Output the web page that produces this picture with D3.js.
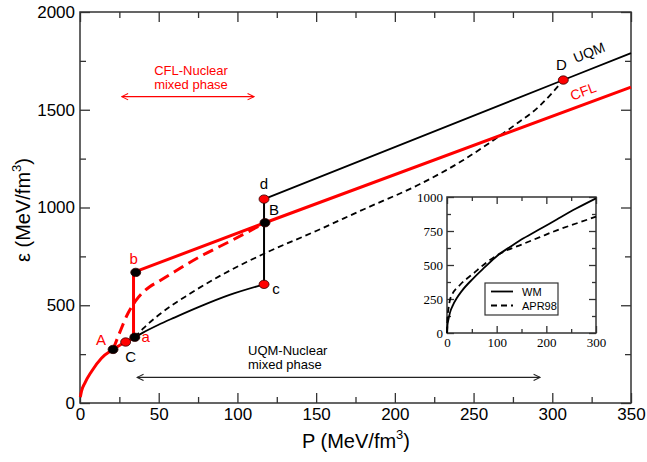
<!DOCTYPE html>
<html>
<head>
<meta charset="utf-8">
<script src="https://cdn.jsdelivr.net/npm/d3@7"></script>
<style>
  body { margin: 0; background: #fff; }
  svg { font-family: "Liberation Sans", Arial, Helvetica, sans-serif; }
</style>
</head>
<body>
<div id="chart"></div>
<script>
// ---- data (P in MeV/fm^3, eps in MeV/fm^3) ----
const cflLow = [[0.2,30],[1,62],[3,101],[7.2,160],[13.6,229],[21,274],[29,312],[34,334]];
const cflHigh = [[34,334],[34,668],[117.5,922],[350,1616]];
const cflMixed = [[21,274],[25,356],[30.5,459],[35.8,527],[44.3,595],[49.6,620],[76,748],[97,834],[117.5,922]];
const uqmLow = [[34.8,336],[40,360],[49.6,399],[60,437],[76,493],[95,553],[116.9,607]];
const uqmJump = [[116.9,607],[116.9,1043]];
const uqmHigh = [[116.9,1043],[307,1652],[350,1790]];
const uqmMixed = [[34.8,336],[40,380],[50,450],[70,560],[90,655],[117.5,766],[150,880],[180,990],[216,1120],[243,1240],[260,1330],[275,1415],[292,1520],[307,1652]];

const marks = [
  {name:"A", p:21, e:274, fill:"black", lab:"A", lc:"red", dx:-12, dy:-4},
  {name:"C", p:29, e:312, fill:"red", lab:"C", lc:"black", dx:5, dy:20},
  {name:"a", p:34.8, e:336, fill:"black", lab:"a", lc:"red", dx:11, dy:5},
  {name:"b", p:35.4, e:668, fill:"black", lab:"b", lc:"red", dx:-2, dy:-8},
  {name:"B", p:117.5, e:922, fill:"black", lab:"B", lc:"black", dx:9, dy:-8},
  {name:"c", p:116.9, e:607, fill:"red", lab:"c", lc:"black", dx:12, dy:10},
  {name:"d", p:116.9, e:1043, fill:"red", lab:"d", lc:"black", dx:0, dy:-10},
  {name:"D", p:307, e:1652, fill:"red", lab:"D", lc:"black", dx:-2, dy:-10}
];

// inset: WM vs APR98 nuclear EOS
const wm = [[0,0],[1,60],[3,100],[6,150],[12,205],[19.5,255],[30,310],[53,402],[75,480],[103,574],[130,640],[154,696],[190,770],[221,835],[260,915],[300,990]];
const apr98 = [[0,0],[1,110],[3,180],[6,243],[10,280],[26,353],[53,437],[80,520],[110,590],[150,650],[187,705],[221,755],[260,805],[300,855]];

const xMajor = [0,50,100,150,200,250,300,350];
const xMinor = [25,75,125,175,225,275,325];
const yMajor = [0,500,1000,1500,2000];
const yMinor = [250,750,1250,1750];
const ixMajor = [0,100,200,300];
const ixMinor = [50,150,250];
const iyMajor = [0,250,500,750,1000];
const iyMinor = [125,375,625,875];

const W = 647, H = 462;
const svg = d3.select("#chart").append("svg").attr("width", W).attr("height", H);

const x = d3.scaleLinear().domain([0,350]).range([80,631]);
const y = d3.scaleLinear().domain([0,2000]).range([403,12]);

const defs = svg.append("defs");
function arrowMarker(id, color) {
  defs.append("marker").attr("id", id)
    .attr("viewBox", "0 0 10 10").attr("refX", 9).attr("refY", 5)
    .attr("markerWidth", 8).attr("markerHeight", 8).attr("orient", "auto-start-reverse")
    .attr("markerUnits", "userSpaceOnUse")
    .append("path").attr("d", "M1,1 L9,5 L1,9").attr("fill", "none")
    .attr("stroke", color).attr("stroke-width", 1.3);
}
arrowMarker("arR", "red");
arrowMarker("arK", "#222");

// axes with inward ticks
function drawAxes(g, xs, ys, xMaj, xMin, yMaj, yMin, big, small, fmtX, fmtY) {
  const x0 = xs.range()[0], x1 = xs.range()[1], y0 = ys.range()[0], y1 = ys.range()[1];
  g.append("g").attr("transform", `translate(0,${y0})`)
    .call(d3.axisBottom(xs).tickValues(xMaj).tickSize(-big).tickPadding(5).tickFormat(fmtX));
  g.append("g").attr("transform", `translate(0,${y0})`)
    .call(d3.axisBottom(xs).tickValues(xMin).tickSize(-small).tickFormat(""));
  g.append("g").attr("transform", `translate(0,${y1})`)
    .call(d3.axisTop(xs).tickValues(xMaj).tickSize(-big).tickFormat(""));
  g.append("g").attr("transform", `translate(0,${y1})`)
    .call(d3.axisTop(xs).tickValues(xMin).tickSize(-small).tickFormat(""));
  g.append("g").attr("transform", `translate(${x0},0)`)
    .call(d3.axisLeft(ys).tickValues(yMaj).tickSize(-big).tickPadding(5).tickFormat(fmtY));
  g.append("g").attr("transform", `translate(${x0},0)`)
    .call(d3.axisLeft(ys).tickValues(yMin).tickSize(-small).tickFormat(""));
  g.append("g").attr("transform", `translate(${x1},0)`)
    .call(d3.axisRight(ys).tickValues(yMaj).tickSize(-big).tickFormat(""));
  g.append("g").attr("transform", `translate(${x1},0)`)
    .call(d3.axisRight(ys).tickValues(yMin).tickSize(-small).tickFormat(""));
  g.selectAll(".domain").remove();
  g.selectAll(".tick line").attr("stroke", "#333").attr("stroke-width", 1.3);
  g.append("rect").attr("x", x0).attr("y", y1).attr("width", x1 - x0).attr("height", y0 - y1)
    .attr("fill", "none").attr("stroke", "#333").attr("stroke-width", 1.5);
}

const main = svg.append("g");
drawAxes(main, x, y, xMajor, xMinor, yMajor, yMinor, 10, 6, d3.format("d"), d3.format("d"));
main.selectAll(".tick text").attr("font-size", 17).attr("fill", "black")
  .attr("font-family", "'Liberation Sans', Arial, sans-serif");

// axis titles
const xt = svg.append("text").attr("x", 356).attr("y", 448).attr("text-anchor", "middle")
  .attr("font-size", 20).text("P (MeV/fm");
xt.append("tspan").attr("font-size", 13).attr("dy", -9).text("3");
xt.append("tspan").attr("dy", 9).text(")");
const yt = svg.append("text").attr("transform", "translate(30,210) rotate(-90)")
  .attr("text-anchor", "middle").attr("font-size", 20).text("ε (MeV/fm");
yt.append("tspan").attr("font-size", 13).attr("dy", -9).text("3");
yt.append("tspan").attr("dy", 9).text(")");

const line = d3.line().x(d => x(d[0])).y(d => y(d[1]));
const smooth = d3.line().x(d => x(d[0])).y(d => y(d[1])).curve(d3.curveMonotoneX);
const plot = svg.append("g");

plot.append("path").datum(uqmMixed).attr("d", smooth).attr("fill", "none")
  .attr("stroke", "black").attr("stroke-width", 1.8).attr("stroke-dasharray", "6,4");
plot.append("path").datum(uqmLow).attr("d", smooth).attr("fill", "none")
  .attr("stroke", "black").attr("stroke-width", 1.8);
plot.append("path").datum(uqmJump).attr("d", line).attr("fill", "none")
  .attr("stroke", "black").attr("stroke-width", 2);
plot.append("path").datum(uqmHigh).attr("d", line).attr("fill", "none")
  .attr("stroke", "black").attr("stroke-width", 1.8);
plot.append("path").datum(cflMixed).attr("d", smooth).attr("fill", "none")
  .attr("stroke", "red").attr("stroke-width", 3).attr("stroke-dasharray", "11,6");
plot.append("path").datum(cflLow).attr("d", smooth).attr("fill", "none")
  .attr("stroke", "red").attr("stroke-width", 3);
plot.append("path").datum(cflHigh).attr("d", line).attr("fill", "none")
  .attr("stroke", "red").attr("stroke-width", 3).attr("stroke-linejoin", "round");

plot.selectAll("ellipse.pt").data(marks).join("ellipse").attr("class", "pt")
  .attr("cx", d => x(d.p)).attr("cy", d => y(d.e)).attr("rx", 5).attr("ry", 4.2)
  .attr("fill", d => d.fill).attr("stroke", "#300").attr("stroke-width", 0.8);
plot.selectAll("text.lab").data(marks).join("text").attr("class", "lab")
  .attr("x", d => x(d.p) + d.dx).attr("y", d => y(d.e) + d.dy)
  .attr("text-anchor", "middle").attr("font-size", 15).attr("fill", d => d.lc).text(d => d.lab);

// curve names
svg.append("text").attr("transform", "translate(591,57) rotate(-21.5)")
  .attr("text-anchor", "middle").attr("font-size", 14).text("UQM");
svg.append("text").attr("transform", "translate(585,96) rotate(-20.5)")
  .attr("text-anchor", "middle").attr("font-size", 14).attr("fill", "red").text("CFL");

// mixed phase annotations
svg.append("line").attr("x1", x(26.5)).attr("x2", x(110.5)).attr("y1", y(1567)).attr("y2", y(1567))
  .attr("stroke", "red").attr("stroke-width", 1.1)
  .attr("marker-start", "url(#arR)").attr("marker-end", "url(#arR)");
svg.append("text").attr("x", 191).attr("y", 75).attr("text-anchor", "middle")
  .attr("font-size", 13).attr("fill", "red").text("CFL-Nuclear");
svg.append("text").attr("x", 191).attr("y", 89).attr("text-anchor", "middle")
  .attr("font-size", 13).attr("fill", "red").text("mixed phase");

svg.append("line").attr("x1", x(36.3)).attr("x2", x(292.2)).attr("y1", y(131)).attr("y2", y(131))
  .attr("stroke", "#222").attr("stroke-width", 1.1)
  .attr("marker-start", "url(#arK)").attr("marker-end", "url(#arK)");
svg.append("text").attr("x", 248).attr("y", 355).attr("font-size", 13).text("UQM-Nuclear");
svg.append("text").attr("x", 248).attr("y", 369).attr("font-size", 13).text("mixed phase");

// ---- inset ----
const xi = d3.scaleLinear().domain([0,300]).range([447,596]);
const yi = d3.scaleLinear().domain([0,1000]).range([333,197]);
const inset = svg.append("g");
inset.append("rect").attr("x", 447).attr("y", 197).attr("width", 149).attr("height", 136).attr("fill", "white");
drawAxes(inset, xi, yi, ixMajor, ixMinor, iyMajor, iyMinor, 7, 4, d3.format("d"), d3.format("d"));
inset.selectAll(".tick text").attr("font-size", 13).attr("fill", "black")
  .attr("font-family", "'Liberation Serif', 'Times New Roman', serif");
inset.selectAll(".tick text").filter(function() { return this.parentNode.parentNode.getAttribute("transform").startsWith("translate(447"); })
  .attr("dx", 1);

const iline = d3.line().x(d => xi(d[0])).y(d => yi(d[1])).curve(d3.curveMonotoneX);
inset.append("path").datum(apr98).attr("d", iline).attr("fill", "none")
  .attr("stroke", "black").attr("stroke-width", 1.8).attr("stroke-dasharray", "6,4");
inset.append("path").datum(wm).attr("d", iline).attr("fill", "none")
  .attr("stroke", "black").attr("stroke-width", 1.8);

const leg = inset.append("g");
leg.append("rect").attr("x", 485).attr("y", 283).attr("width", 73).attr("height", 32)
  .attr("fill", "white").attr("stroke", "#333").attr("stroke-width", 1.2);
leg.append("line").attr("x1", 491).attr("x2", 513).attr("y1", 291.5).attr("y2", 291.5)
  .attr("stroke", "black").attr("stroke-width", 1.8);
leg.append("line").attr("x1", 491).attr("x2", 513).attr("y1", 305.5).attr("y2", 305.5)
  .attr("stroke", "black").attr("stroke-width", 1.8).attr("stroke-dasharray", "6,4");
leg.append("text").attr("x", 522).attr("y", 295.5).attr("font-size", 11).text("WM");
leg.append("text").attr("x", 522).attr("y", 309.5).attr("font-size", 11).text("APR98");
</script>
</body>
</html>
